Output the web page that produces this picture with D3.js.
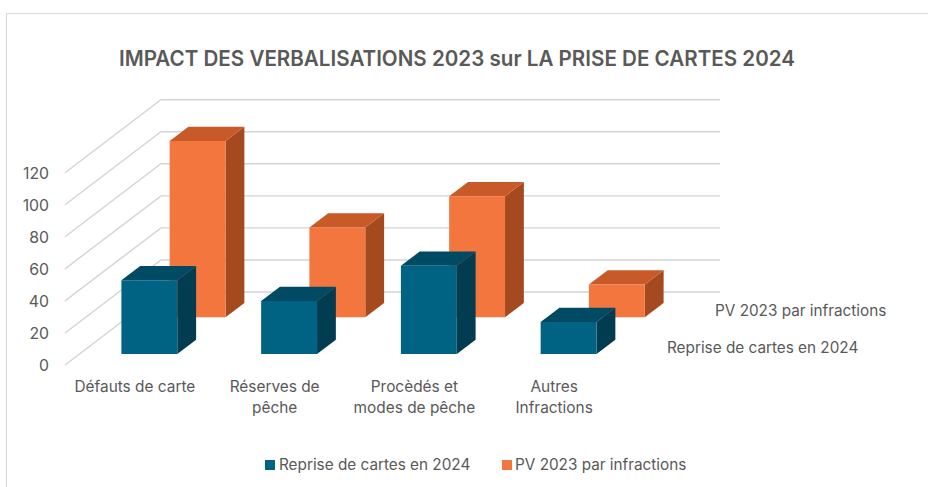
<!DOCTYPE html>
<html><head><meta charset="utf-8">
<script src="https://cdn.jsdelivr.net/npm/d3@7"></script>
<style>html,body{margin:0;background:#fff}svg{display:block}text{font-family:Inter,"Open Sans",sans-serif;fill:#595959}</style>
</head><body><svg id="c" width="928" height="487"></svg>
<script>
const title = "IMPACT DES VERBALISATIONS 2023 sur LA PRISE DE CARTES 2024";
const categories = ["Défauts de carte","Réserves de pêche","Procèdés et modes de pêche","Autres Infractions"];
const categoryLines = [["Défauts de carte"],["Réserves de","pêche"],["Procèdés et","modes de pêche"],["Autres","Infractions"]];
const seriesNames = ["Reprise de cartes en 2024","PV 2023 par infractions"];
const reprise = [46,33,55,20];
const pv = [110,56,75.5,20.5];
const ticks = [0,20,40,60,80,100,120];
const frontColors = ["#006384","#f4763f"];
const topColors = ["#004a63","#c85a27"];
const sideColors = ["#023c50","#a5491f"];

const svg = d3.select("#c");
const x = d3.scaleBand().domain(categories).range([65,624]).paddingInner(.6).paddingOuter(.3);
const y = d3.scaleLinear().domain([0,120]).range([365,172.7]);
const depth = d3.scaleBand().domain(seriesNames).range([0,1]).paddingInner(.61).paddingOuter(.3);
const dpx = d3.scaleLinear().domain([0,1]).range([0,96]);
const dpy = d3.scaleLinear().domain([0,1]).range([0,73]);
const P = (px,v,d)=>[px+dpx(d), y(v)-dpy(d)];

// frame
svg.append("path").attr("d","M6.5 487V13.5H928").attr("fill","none").attr("stroke","#d9d9d9").attr("stroke-width",1.2);

svg.append("text").attr("x",457).attr("y",66).attr("text-anchor","middle")
  .attr("font-size",21.5).attr("font-weight",600).attr("textLength",676).attr("lengthAdjust","spacingAndGlyphs").text(title);

// walls
const grid = svg.append("g").attr("fill","none").attr("stroke","#d4d4d4").attr("stroke-width",1.4);
grid.selectAll("path").data(ticks).join("path").attr("d",t=>d3.line()([P(65,t,0),P(65,t,1),P(624,t,1)]));

// bars
const series = [reprise,pv];
[1,0].forEach(s=>{
  const g = svg.append("g");
  const d0 = depth(seriesNames[s]), d1 = d0+depth.bandwidth(), line = d3.line();
  categories.forEach((c,i)=>{
    const a = x(c), b = a+x.bandwidth(), v = series[s][i];
    g.append("path").attr("fill",sideColors[s]).attr("d",line([P(b,0,d0),P(b,v,d0),P(b,v,d1),P(b,0,d1)])+"Z");
    g.append("path").attr("fill",topColors[s]).attr("d",line([P(a,v,d0),P(b,v,d0),P(b,v,d1),P(a,v,d1)])+"Z");
    g.append("path").attr("fill",frontColors[s]).attr("d",line([P(a,0,d0),P(b,0,d0),P(b,v,d0),P(a,v,d0)])+"Z");
  });
});

// value axis
const ax = svg.append("g").attr("transform","translate(49,0.7)")
  .call(d3.axisLeft(y).tickValues(ticks).tickSize(0).tickPadding(0));
ax.select(".domain").remove();
ax.attr("font-family",null);
ax.selectAll("text").attr("font-size",15.8).style("fill","#595959");

// category labels
const cats = svg.append("g").attr("text-anchor","middle").attr("font-size",15.4);
categories.forEach((c,i)=>{
  const cx = x(c)+x.bandwidth()/2;
  const t = cats.append("text").attr("x",cx);
  categoryLines[i].forEach((l,j)=>t.append("tspan").attr("x",cx).attr("y",392+j*21).text(l));
});

// depth labels
svg.append("text").attr("x",715).attr("y",316).attr("font-size",15.3).text(seriesNames[1]);
svg.append("text").attr("x",667).attr("y",352.5).attr("font-size",15.3).text(seriesNames[0]);

// legend
const lx = [265,502], tx = [279,515];
seriesNames.forEach((n,i)=>{
  svg.append("rect").attr("x",lx[i]).attr("y",460).attr("width",10).attr("height",10).attr("fill",frontColors[i]);
  svg.append("text").attr("x",tx[i]).attr("y",469.5).attr("font-size",15.3).text(n);
});
</script></body></html>
